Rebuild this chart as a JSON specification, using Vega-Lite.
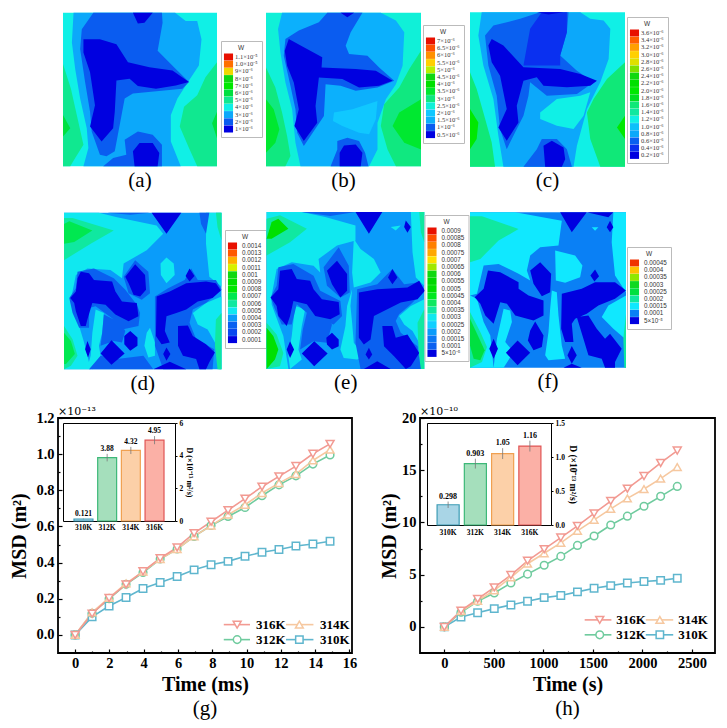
{"$schema":"https://vega.github.io/schema/vega-lite/v6.json","background":"white","padding":{"left":8,"top":12,"right":0,"bottom":0},"config":{"view":{"stroke":null},"axis":{"grid":false},"legend":{"orient":"none","symbolType":"M-1.3,-1H1.3V1H-1.3Z","symbolSize":49,"symbolStrokeWidth":0,"rowPadding":0.2,"labelFontSize":6.3,"labelColor":"#333","titleFontSize":6.5,"titleColor":"#333","titleFontWeight":"normal","strokeColor":"#bbb","fillColor":"white","labelOffset":6,"padding":4,"titleAnchor":"middle","titlePadding":2,"labelLimit":60}},
"resolve":{"scale":{"color":"independent"},"legend":{"color":"independent"}},
"datasets":{
"pa":[
{"type":"Feature","W":"4×10⁻⁶","geometry":{"type":"Polygon","coordinates":[[[38,40],[505,40],[505,505],[38,505],[38,40]]]}},
{"type":"Feature","W":"5×10⁻⁶","geometry":{"type":"MultiPolygon","coordinates":[[[[38,195],[62,270],[82,360],[100,440],[75,480],[60,505],[38,505],[38,195]]],[[[505,190],[470,235],[445,290],[405,325],[392,385],[420,450],[445,505],[505,505],[505,190]]]]}},
{"type":"Feature","W":"6×10⁻⁶","geometry":{"type":"MultiPolygon","coordinates":[[[[38,350],[60,390],[38,415],[38,350]]],[[[505,340],[490,375],[505,420],[505,340]]]]}},
{"type":"Feature","W":"3×10⁻⁶","geometry":{"type":"Polygon","coordinates":[[[70,40],[65,130],[75,210],[90,300],[110,390],[115,450],[100,505],[395,505],[365,430],[365,350],[385,300],[420,245],[450,200],[458,120],[445,65],[410,65],[378,40],[70,40]]]}},
{"type":"Feature","W":"2×10⁻⁶","geometry":{"type":"MultiPolygon","coordinates":[[[[130,40],[95,90],[90,150],[105,250],[120,340],[125,400],[150,470],[170,475],[195,460],[225,300],[250,285],[400,270],[420,250],[380,210],[325,155],[340,70],[338,40],[130,40]]],[[[160,505],[190,480],[230,470],[225,425],[265,400],[310,410],[338,440],[338,505],[160,505]]]]}},
{"type":"Feature","W":"1×10⁻⁶","geometry":{"type":"MultiPolygon","coordinates":[[[[100,120],[150,120],[200,135],[235,190],[300,205],[370,215],[420,250],[380,260],[320,270],[265,262],[240,240],[200,245],[195,340],[190,390],[155,430],[120,385],[135,320],[120,220],[100,160],[100,120]]],[[[250,40],[310,40],[285,70],[265,72],[250,40]]],[[[255,505],[250,460],[270,435],[310,435],[330,465],[325,505],[255,505]]]]}}
],
"pb":[
{"type":"Feature","W":"2.5×10⁻⁶","geometry":{"type":"Polygon","coordinates":[[[12,12],[475,12],[475,470],[12,470],[12,12]]]}},
{"type":"Feature","W":"3×10⁻⁶","geometry":{"type":"MultiPolygon","coordinates":[[[[12,175],[40,235],[60,310],[75,380],[85,440],[70,470],[12,470],[12,175]]],[[[475,125],[440,180],[410,235],[365,285],[355,350],[375,420],[400,470],[475,470],[475,125]]]]}},
{"type":"Feature","W":"3.5×10⁻⁶","geometry":{"type":"MultiPolygon","coordinates":[[[[12,270],[35,300],[52,360],[40,400],[12,430],[12,270]]],[[[475,270],[410,310],[390,350],[425,400],[475,420],[475,270]]]]}},
{"type":"Feature","W":"1.5×10⁻⁶","geometry":{"type":"Polygon","coordinates":[[[60,12],[48,60],[55,130],[70,220],[90,300],[100,400],[115,470],[320,470],[345,420],[345,340],[370,270],[400,225],[420,170],[425,70],[400,35],[355,12],[60,12]]]}},
{"type":"Feature","W":"2×10⁻⁶","geometry":{"type":"Polygon","coordinates":[[[215,310],[270,300],[345,275],[340,330],[320,375],[290,370],[240,350],[212,335],[215,310]]]}},
{"type":"Feature","W":"1×10⁻⁶","geometry":{"type":"MultiPolygon","coordinates":[[[[195,12],[170,40],[110,65],[70,90],[65,140],[85,230],[100,300],[105,370],[125,410],[165,350],[185,320],[190,225],[235,230],[280,245],[345,235],[395,215],[350,175],[315,140],[260,135],[250,110],[265,70],[300,12],[195,12]]],[[[205,470],[225,420],[225,395],[255,385],[290,395],[308,430],[318,470],[205,470]]]]}},
{"type":"Feature","W":"0.5×10⁻⁶","geometry":{"type":"MultiPolygon","coordinates":[[[[80,90],[125,115],[180,145],[178,175],[280,180],[340,185],[390,215],[350,230],[290,235],[240,210],[170,205],[160,290],[165,340],[125,395],[97,350],[110,300],[95,220],[75,170],[68,125],[80,90]]],[[[235,12],[275,12],[255,25],[235,12]]],[[[232,470],[232,430],[245,408],[280,405],[300,430],[295,470],[232,470]]]]}}
],
"pc":[
{"type":"Feature","W":"1.2×10⁻⁶","geometry":{"type":"Polygon","coordinates":[[[330,40],[794,40],[794,503],[330,503],[330,40]]]}},
{"type":"Feature","W":"1.6×10⁻⁶","geometry":{"type":"MultiPolygon","coordinates":[[[[330,220],[350,270],[370,340],[395,430],[405,503],[330,503],[330,220]]],[[[794,190],[740,240],[700,300],[680,340],[690,420],[720,503],[794,503],[794,190]]]]}},
{"type":"Feature","W":"2.0×10⁻⁶","geometry":{"type":"MultiPolygon","coordinates":[[[[330,330],[355,370],[350,420],[330,450],[330,330]]],[[[794,350],[770,385],[794,420],[794,350]]]]}},
{"type":"Feature","W":"0.8×10⁻⁶","geometry":{"type":"MultiPolygon","coordinates":[[[[365,40],[355,110],[370,200],[400,300],[415,410],[430,503],[640,503],[650,440],[680,330],[720,250],[745,180],[750,90],[730,65],[690,60],[660,40],[365,40]]],[[[722,122],[716,132],[724,142],[722,122]]]]}},
{"type":"Feature","W":"1.2×10⁻⁶","geometry":{"type":"Polygon","coordinates":[[[540,340],[590,300],[660,290],[690,280],[670,350],[640,390],[590,380],[540,360],[540,340]]]}},
{"type":"Feature","W":"0.6×10⁻⁶","geometry":{"type":"MultiPolygon","coordinates":[[[[540,40],[480,60],[400,80],[375,110],[385,200],[410,290],[420,390],[440,450],[490,350],[505,290],[510,250],[560,290],[650,285],[700,250],[650,215],[600,170],[620,100],[625,40],[540,40]]],[[[490,503],[530,450],[545,420],[590,420],[620,450],[635,503],[490,503]]]]}},
{"type":"Feature","W":"0.4×10⁻⁶","geometry":{"type":"Polygon","coordinates":[[[545,40],[510,90],[490,200],[600,200],[600,170],[620,100],[620,40],[545,40]]]}},
{"type":"Feature","W":"0.2×10⁻⁶","geometry":{"type":"MultiPolygon","coordinates":[[[[395,120],[430,140],[490,205],[600,210],[660,225],[710,245],[690,260],[620,265],[550,260],[530,235],[490,245],[470,320],[475,370],[440,425],[415,385],[440,330],[420,230],[395,190],[385,140],[395,120]]],[[[530,40],[610,40],[565,47],[530,40]]],[[[555,503],[550,440],[575,425],[610,445],[615,480],[605,503],[555,503]]]]}}
],
"pd":[
{"type":"Feature","W":"0.0004","geometry":{"type":"Polygon","coordinates":[[[39,36],[517,36],[517,511],[39,511],[39,36]]]}},
{"type":"Feature","W":"0.0005","geometry":{"type":"MultiPolygon","coordinates":[[[[39,36],[145,36],[200,50],[320,75],[340,100],[290,150],[220,190],[215,235],[180,210],[110,205],[75,225],[60,300],[60,310],[85,380],[100,430],[120,511],[39,511],[39,36]]],[[[470,36],[517,36],[517,260],[480,230],[470,130],[470,36]]],[[[517,290],[470,310],[430,340],[445,375],[475,390],[497,430],[510,511],[517,511],[517,290]]],[[[350,172],[372,190],[375,225],[350,250],[333,225],[332,190],[350,172]]],[[[300,385],[315,430],[315,470],[295,475],[283,440],[290,400],[300,385]]],[[[135,330],[160,340],[155,400],[145,440],[150,470],[125,511],[110,505],[120,470],[125,400],[135,330]]]]}},
{"type":"Feature","W":"0.0006","geometry":{"type":"MultiPolygon","coordinates":[[[[39,52],[65,52],[190,90],[120,130],[39,180],[39,52]]],[[[39,380],[65,420],[80,470],[60,500],[39,511],[39,380]]],[[[500,36],[517,36],[517,120],[505,80],[500,36]]],[[[517,340],[500,360],[497,440],[505,511],[517,511],[517,340]]]]}},
{"type":"Feature","W":"0.0007","geometry":{"type":"MultiPolygon","coordinates":[[[[55,62],[125,90],[70,125],[39,130],[39,70],[55,62]]],[[[39,400],[60,425],[72,465],[45,495],[39,495],[39,400]]]]}},
{"type":"Feature","W":"0.0003","geometry":{"type":"MultiPolygon","coordinates":[[[[80,215],[130,205],[190,235],[225,270],[260,315],[270,340],[265,380],[215,390],[190,360],[135,320],[115,325],[115,385],[85,385],[65,340],[55,295],[75,265],[80,215]]],[[[255,180],[295,215],[300,280],[275,300],[235,280],[220,230],[255,180]]],[[[315,290],[355,265],[405,240],[425,205],[445,240],[500,240],[517,270],[470,310],[430,330],[420,370],[440,420],[495,450],[490,511],[340,511],[315,440],[315,340],[315,290]]],[[[160,345],[210,370],[225,395],[215,430],[190,425],[150,440],[155,400],[160,345]]],[[[150,470],[200,480],[280,470],[310,511],[115,511],[150,470]]],[[[170,36],[300,36],[240,42],[170,36]]],[[[450,36],[480,36],[470,100],[455,70],[450,36]]]]}},
{"type":"Feature","W":"0.0001","geometry":{"type":"MultiPolygon","coordinates":[[[[90,215],[115,220],[130,240],[185,245],[195,275],[215,305],[260,310],[265,350],[235,365],[195,345],[165,315],[125,310],[110,360],[105,380],[90,380],[75,335],[70,310],[58,295],[75,275],[80,235],[90,215]]],[[[255,192],[285,225],[288,270],[270,290],[250,285],[235,250],[225,230],[255,192]]],[[[320,290],[360,275],[410,250],[470,245],[500,250],[515,272],[490,295],[445,305],[410,330],[380,340],[350,350],[345,395],[360,430],[335,435],[318,410],[320,290]]],[[[385,380],[415,378],[430,410],[470,435],[497,460],[480,490],[470,511],[450,511],[440,480],[400,470],[385,440],[385,380]]],[[[420,205],[435,228],[420,245],[408,228],[420,205]]],[[[305,36],[395,36],[350,100],[305,36]]],[[[240,395],[262,415],[262,440],[240,455],[222,435],[222,410],[240,395]]],[[[183,423],[223,463],[183,497],[150,463],[183,423]]],[[[110,425],[120,450],[112,475],[103,450],[110,425]]],[[[350,445],[362,465],[350,485],[340,465],[350,445]]],[[[310,511],[360,488],[410,511],[310,511]]]]}}
],
"pe":[
{"type":"Feature","W":"0.0002","geometry":{"type":"Polygon","coordinates":[[[10,10],[480,10],[480,478],[10,478],[10,10]]]}},
{"type":"Feature","W":"0.0003","geometry":{"type":"MultiPolygon","coordinates":[[[[10,10],[115,10],[185,25],[275,50],[275,95],[220,110],[165,150],[170,190],[150,170],[85,160],[40,180],[25,260],[25,285],[45,340],[60,380],[75,478],[10,478],[10,10]]],[[[440,10],[480,10],[480,230],[455,205],[445,130],[440,10]]],[[[480,270],[440,290],[405,320],[420,345],[445,365],[465,400],[470,478],[480,478],[480,270]]],[[[270,90],[290,120],[330,150],[350,190],[320,220],[270,235],[265,190],[270,90]]],[[[265,240],[260,290],[265,340],[270,400],[300,440],[280,450],[240,445],[230,420],[245,350],[250,290],[265,240]]],[[[95,290],[125,300],[115,350],[110,385],[105,420],[115,450],[80,478],[75,440],[85,380],[95,290]]],[[[380,55],[410,50],[395,65],[380,55]]]]}},
{"type":"Feature","W":"0.00035","geometry":{"type":"MultiPolygon","coordinates":[[[[10,30],[50,20],[130,60],[80,100],[10,140],[10,30]]],[[[10,340],[40,375],[60,430],[50,470],[10,478],[10,340]]],[[[465,10],[480,10],[480,100],[470,70],[465,10]]],[[[480,300],[460,340],[462,400],[468,478],[480,478],[480,300]]]]}},
{"type":"Feature","W":"0.0005","geometry":{"type":"MultiPolygon","coordinates":[[[[25,40],[45,30],[75,60],[25,90],[10,90],[25,40]]],[[[10,355],[30,380],[45,420],[35,450],[10,478],[10,355]]]]}},
{"type":"Feature","W":"0.0001","geometry":{"type":"MultiPolygon","coordinates":[[[[45,175],[90,165],[150,200],[170,245],[230,275],[235,320],[210,345],[150,325],[130,310],[100,285],[85,345],[55,345],[35,300],[22,265],[40,230],[45,175]]],[[[225,115],[255,170],[258,250],[230,265],[190,230],[180,175],[225,115]]],[[[280,240],[340,225],[385,180],[420,225],[460,220],[480,245],[440,285],[405,315],[395,335],[410,370],[460,410],[470,478],[290,478],[275,400],[280,240]]],[[[130,310],[175,325],[205,345],[190,400],[150,395],[110,420],[118,360],[130,310]]],[[[115,10],[275,10],[200,22],[115,10]]]]}},
{"type":"Feature","W":"5×10⁻⁵","geometry":{"type":"MultiPolygon","coordinates":[[[[50,185],[85,180],[100,210],[140,215],[150,240],[175,270],[225,278],[228,315],[200,330],[155,320],[130,285],[90,275],[80,320],[70,350],[45,320],[40,290],[22,265],[45,240],[50,185]]],[[[220,155],[250,195],[250,245],[230,265],[205,225],[190,185],[220,155]]],[[[285,250],[340,240],[430,235],[465,215],[482,245],[460,270],[410,280],[370,300],[330,320],[320,390],[300,405],[285,385],[285,250]]],[[[355,350],[385,350],[395,385],[430,375],[465,430],[440,470],[425,478],[390,440],[360,410],[355,350]]],[[[385,180],[400,205],[385,225],[372,205],[385,180]]],[[[315,415],[325,435],[315,450],[305,435],[315,415]]],[[[205,370],[225,390],[225,410],[205,420],[190,405],[188,385],[205,370]]],[[[152,395],[192,432],[152,470],[115,432],[152,395]]],[[[80,395],[92,420],[80,445],[70,420],[80,395]]],[[[275,10],[355,10],[315,75],[275,10]]],[[[425,35],[440,55],[430,72],[420,55],[425,35]]],[[[300,478],[340,455],[380,478],[300,478]]]]}}
],
"pf":[
{"type":"Feature","W":"0.0001","geometry":{"type":"Polygon","coordinates":[[[204,40],[673,40],[673,507],[204,507],[204,40]]]}},
{"type":"Feature","W":"0.00015","geometry":{"type":"MultiPolygon","coordinates":[[[[204,40],[340,40],[480,65],[470,140],[415,145],[385,170],[375,215],[385,245],[350,225],[290,195],[245,200],[225,285],[204,290],[225,300],[245,370],[265,410],[275,507],[204,507],[204,40]]],[[[460,155],[520,170],[542,200],[535,235],[490,252],[462,245],[460,155]]],[[[635,40],[673,40],[673,280],[640,230],[630,130],[635,40]]],[[[673,290],[620,320],[600,355],[635,390],[670,420],[673,507],[673,290]]],[[[450,275],[465,280],[470,350],[480,440],[490,480],[440,485],[430,470],[440,400],[445,330],[450,275]]],[[[305,330],[325,335],[330,370],[310,430],[335,460],[305,507],[275,507],[285,420],[305,330]]],[[[570,85],[590,85],[580,95],[570,85]]]]}},
{"type":"Feature","W":"0.0002","geometry":{"type":"MultiPolygon","coordinates":[[[[204,52],[240,52],[350,90],[290,125],[235,180],[204,190],[204,52]]],[[[204,340],[235,400],[255,445],[240,490],[204,507],[204,340]]],[[[673,345],[665,420],[668,507],[673,507],[673,345]]]]}},
{"type":"Feature","W":"0.00025","geometry":{"type":"Polygon","coordinates":[[[204,360],[232,420],[248,455],[235,485],[215,480],[204,440],[204,360]]]}},
{"type":"Feature","W":"5×10⁻⁵","geometry":{"type":"MultiPolygon","coordinates":[[[[258,215],[295,220],[350,250],[350,270],[380,290],[425,305],[425,350],[395,365],[340,350],[315,315],[295,310],[275,375],[250,350],[235,315],[218,295],[245,270],[258,215]]],[[[415,190],[448,225],[445,280],[420,292],[395,255],[385,215],[415,190]]],[[[480,285],[540,270],[580,250],[640,250],[673,275],[640,300],[590,320],[555,345],[520,360],[510,375],[515,430],[490,430],[478,390],[480,285]]],[[[525,355],[560,350],[585,390],[610,420],[625,405],[660,450],[640,490],[640,507],[610,507],[600,480],[560,470],[545,420],[525,355]]],[[[580,212],[592,232],[578,248],[566,230],[580,212]]],[[[625,65],[635,85],[625,100],[615,85],[625,65]]],[[[475,40],[555,40],[510,100],[475,40]]],[[[555,40],[635,40],[620,55],[555,40]]],[[[400,368],[425,410],[420,445],[395,455],[378,425],[385,395],[400,368]]],[[[347,425],[385,462],[347,500],[312,462],[347,425]]],[[[275,420],[288,450],[275,480],[262,450],[275,420]]],[[[510,442],[525,470],[510,495],[497,470],[510,442]]],[[[485,507],[510,495],[540,507],[485,507]]]]}}
],
"g":[
{"t":0,"msd":0,"s":"310K"},{"t":0.99,"msd":0.1,"s":"310K"},{"t":1.98,"msd":0.16,"s":"310K"},{"t":2.97,"msd":0.207,"s":"310K"},{"t":3.96,"msd":0.257,"s":"310K"},{"t":4.96,"msd":0.29,"s":"310K"},{"t":5.95,"msd":0.323,"s":"310K"},{"t":6.94,"msd":0.36,"s":"310K"},{"t":7.93,"msd":0.388,"s":"310K"},{"t":8.92,"msd":0.407,"s":"310K"},{"t":9.91,"msd":0.435,"s":"310K"},{"t":10.9,"msd":0.457,"s":"310K"},{"t":11.89,"msd":0.473,"s":"310K"},{"t":12.88,"msd":0.492,"s":"310K"},{"t":13.87,"msd":0.503,"s":"310K"},{"t":14.87,"msd":0.518,"s":"310K"},
{"t":0,"msd":0,"s":"312K"},{"t":0.99,"msd":0.12,"s":"312K"},{"t":1.98,"msd":0.2,"s":"312K"},{"t":2.97,"msd":0.28,"s":"312K"},{"t":3.96,"msd":0.345,"s":"312K"},{"t":4.96,"msd":0.42,"s":"312K"},{"t":5.95,"msd":0.475,"s":"312K"},{"t":6.94,"msd":0.545,"s":"312K"},{"t":7.93,"msd":0.605,"s":"312K"},{"t":8.92,"msd":0.655,"s":"312K"},{"t":9.91,"msd":0.705,"s":"312K"},{"t":10.9,"msd":0.77,"s":"312K"},{"t":11.89,"msd":0.83,"s":"312K"},{"t":12.88,"msd":0.88,"s":"312K"},{"t":13.87,"msd":0.945,"s":"312K"},{"t":14.87,"msd":0.995,"s":"312K"},
{"t":0,"msd":0,"s":"314K"},{"t":0.99,"msd":0.125,"s":"314K"},{"t":1.98,"msd":0.205,"s":"314K"},{"t":2.97,"msd":0.285,"s":"314K"},{"t":3.96,"msd":0.35,"s":"314K"},{"t":4.96,"msd":0.42,"s":"314K"},{"t":5.95,"msd":0.475,"s":"314K"},{"t":6.94,"msd":0.545,"s":"314K"},{"t":7.93,"msd":0.605,"s":"314K"},{"t":8.92,"msd":0.665,"s":"314K"},{"t":9.91,"msd":0.72,"s":"314K"},{"t":10.9,"msd":0.785,"s":"314K"},{"t":11.89,"msd":0.84,"s":"314K"},{"t":12.88,"msd":0.89,"s":"314K"},{"t":13.87,"msd":0.965,"s":"314K"},{"t":14.87,"msd":1.025,"s":"314K"},
{"t":0,"msd":0,"s":"316K"},{"t":0.99,"msd":0.117,"s":"316K"},{"t":1.98,"msd":0.204,"s":"316K"},{"t":2.97,"msd":0.279,"s":"316K"},{"t":3.96,"msd":0.352,"s":"316K"},{"t":4.96,"msd":0.424,"s":"316K"},{"t":5.95,"msd":0.484,"s":"316K"},{"t":6.94,"msd":0.563,"s":"316K"},{"t":7.93,"msd":0.626,"s":"316K"},{"t":8.92,"msd":0.69,"s":"316K"},{"t":9.91,"msd":0.754,"s":"316K"},{"t":10.9,"msd":0.82,"s":"316K"},{"t":11.89,"msd":0.877,"s":"316K"},{"t":12.88,"msd":0.934,"s":"316K"},{"t":13.87,"msd":1.002,"s":"316K"},{"t":14.87,"msd":1.057,"s":"316K"}
],
"h":[
{"t":0,"msd":0,"s":"310K"},{"t":168,"msd":0.95,"s":"310K"},{"t":336,"msd":1.35,"s":"310K"},{"t":504,"msd":1.75,"s":"310K"},{"t":672,"msd":2.1,"s":"310K"},{"t":840,"msd":2.45,"s":"310K"},{"t":1008,"msd":2.8,"s":"310K"},{"t":1176,"msd":3.0,"s":"310K"},{"t":1344,"msd":3.35,"s":"310K"},{"t":1512,"msd":3.7,"s":"310K"},{"t":1680,"msd":3.95,"s":"310K"},{"t":1848,"msd":4.2,"s":"310K"},{"t":2016,"msd":4.35,"s":"310K"},{"t":2184,"msd":4.45,"s":"310K"},{"t":2352,"msd":4.65,"s":"310K"},
{"t":0,"msd":0,"s":"312K"},{"t":168,"msd":1.4,"s":"312K"},{"t":336,"msd":2.45,"s":"312K"},{"t":504,"msd":3.25,"s":"312K"},{"t":672,"msd":4.2,"s":"312K"},{"t":840,"msd":5.05,"s":"312K"},{"t":1008,"msd":5.9,"s":"312K"},{"t":1176,"msd":6.75,"s":"312K"},{"t":1344,"msd":7.8,"s":"312K"},{"t":1512,"msd":8.7,"s":"312K"},{"t":1680,"msd":9.75,"s":"312K"},{"t":1848,"msd":10.6,"s":"312K"},{"t":2016,"msd":11.55,"s":"312K"},{"t":2184,"msd":12.5,"s":"312K"},{"t":2352,"msd":13.45,"s":"312K"},
{"t":0,"msd":0,"s":"314K"},{"t":168,"msd":1.5,"s":"314K"},{"t":336,"msd":2.5,"s":"314K"},{"t":504,"msd":3.5,"s":"314K"},{"t":672,"msd":4.75,"s":"314K"},{"t":840,"msd":6.05,"s":"314K"},{"t":1008,"msd":7.05,"s":"314K"},{"t":1176,"msd":8.05,"s":"314K"},{"t":1344,"msd":9.2,"s":"314K"},{"t":1512,"msd":10.25,"s":"314K"},{"t":1680,"msd":11.3,"s":"314K"},{"t":1848,"msd":12.3,"s":"314K"},{"t":2016,"msd":13.2,"s":"314K"},{"t":2184,"msd":14.2,"s":"314K"},{"t":2352,"msd":15.3,"s":"314K"},
{"t":0,"msd":0,"s":"316K"},{"t":168,"msd":1.56,"s":"316K"},{"t":336,"msd":2.67,"s":"316K"},{"t":504,"msd":3.78,"s":"316K"},{"t":672,"msd":4.96,"s":"316K"},{"t":840,"msd":6.33,"s":"316K"},{"t":1008,"msd":7.44,"s":"316K"},{"t":1176,"msd":8.55,"s":"316K"},{"t":1344,"msd":9.67,"s":"316K"},{"t":1512,"msd":10.87,"s":"316K"},{"t":1680,"msd":12.05,"s":"316K"},{"t":1848,"msd":13.23,"s":"316K"},{"t":2016,"msd":14.44,"s":"316K"},{"t":2184,"msd":15.7,"s":"316K"},{"t":2352,"msd":16.88,"s":"316K"}
],
"gi":[{"s":"310K","d":0.121,"lo":0.1,"hi":0.142,"label":"0.121"},{"s":"312K","d":3.88,"lo":3.65,"hi":4.11,"label":"3.88"},{"s":"314K","d":4.32,"lo":4.1,"hi":4.54,"label":"4.32"},{"s":"316K","d":4.95,"lo":4.7,"hi":5.2,"label":"4.95"}],
"hi":[{"s":"310K","d":0.298,"lo":0.25,"hi":0.345,"label":"0.298"},{"s":"312K","d":0.903,"lo":0.83,"hi":0.975,"label":"0.903"},{"s":"314K","d":1.05,"lo":0.97,"hi":1.13,"label":"1.05"},{"s":"316K","d":1.16,"lo":1.08,"hi":1.24,"label":"1.16"}],
"gl":[{"s":"316K","x":8.67,"y":0.057},{"s":"316K","x":10.2,"y":0.057},{"s":"314K","x":12.3,"y":0.057},{"s":"314K","x":13.9,"y":0.057},{"s":"312K","x":8.67,"y":-0.026},{"s":"312K","x":10.2,"y":-0.026},{"s":"310K","x":12.3,"y":-0.026},{"s":"310K","x":13.9,"y":-0.026}],
"gp":[{"s":"316K","x":9.45,"y":0.057,"tx":10.55},{"s":"314K","x":13.08,"y":0.057,"tx":14.29},{"s":"312K","x":9.45,"y":-0.026,"tx":10.55},{"s":"310K","x":13.08,"y":-0.026,"tx":14.29}],
"hl":[{"s":"316K","x":1417,"y":0.67},{"s":"316K","x":1687,"y":0.67},{"s":"314K","x":2034,"y":0.67},{"s":"314K","x":2311,"y":0.67},{"s":"312K","x":1417,"y":-0.76},{"s":"312K","x":1687,"y":-0.76},{"s":"310K","x":2034,"y":-0.76},{"s":"310K","x":2311,"y":-0.76}],
"hp":[{"s":"316K","x":1569,"y":0.67,"tx":1737},{"s":"314K","x":2176,"y":0.67,"tx":2362},{"s":"312K","x":1569,"y":-0.76,"tx":1737},{"s":"310K","x":2176,"y":-0.76,"tx":2362}]
},
"vconcat":[
{"resolve":{"scale":{"color":"independent"},"legend":{"color":"independent"}},"vconcat":[
{"resolve":{"scale":{"color":"independent"},"legend":{"color":"independent"}},"hconcat":[{"width":5,"height":1,"data":{"values":[]},"mark":"point"},{"resolve":{"scale":{"color":"independent"},"legend":{"color":"independent"}},"hconcat":[
{"width":154,"height":155,"data":{"name":"pa"},"projection":{"type":"identity"},"mark":{"type":"geoshape","stroke":null},"title":{"text":"(a)","orient":"bottom","font":"Liberation Serif","fontSize":21,"fontWeight":"normal","offset":3},"encoding":{"color":{"field":"W","type":"nominal","scale":{"domain":["1.1×10⁻⁵","1.0×10⁻⁵","9×10⁻⁶","8×10⁻⁶","7×10⁻⁶","6×10⁻⁶","5×10⁻⁶","4×10⁻⁶","3×10⁻⁶","2×10⁻⁶","1×10⁻⁶"],"range":["#E81000","#FF7000","#F0D800","#10D810","#00E800","#00E040","#10E890","#10F0E6","#0CA8FA","#0A5CF0","#0000E0"]},"legend":{"title":"W","legendX":158,"legendY":29,"labelFont":"Liberation Serif","labelFontSize":6.5,"labelOffset":3,"titleFont":"Liberation Sans"}}}},
{"width":155,"height":155,"data":{"name":"pb"},"projection":{"type":"identity"},"mark":{"type":"geoshape","stroke":null},"title":{"text":"(b)","orient":"bottom","font":"Liberation Serif","fontSize":21,"fontWeight":"normal","offset":3},"encoding":{"color":{"field":"W","type":"nominal","scale":{"domain":["7×10⁻⁶","6.5×10⁻⁶","6×10⁻⁶","5.5×10⁻⁶","5×10⁻⁶","4.5×10⁻⁶","4×10⁻⁶","3.5×10⁻⁶","3×10⁻⁶","2.5×10⁻⁶","2×10⁻⁶","1.5×10⁻⁶","1×10⁻⁶","0.5×10⁻⁶"],"range":["#E81000","#FF5000","#FF9000","#FFD000","#B8F000","#10D810","#00E000","#00E830","#10E880","#10F0D8","#10C8FF","#0CB0FC","#0A5CF0","#0000E0"]},"legend":{"title":"W","legendX":157,"legendY":13,"labelFont":"Liberation Serif","labelFontSize":6.5,"labelOffset":3,"titleFont":"Liberation Sans"}}}},
{"width":155,"height":155,"data":{"name":"pc"},"projection":{"type":"identity"},"mark":{"type":"geoshape","stroke":null},"title":{"text":"(c)","orient":"bottom","font":"Liberation Serif","fontSize":21,"fontWeight":"normal","offset":3},"encoding":{"color":{"field":"W","type":"nominal","scale":{"domain":["3.6×10⁻⁶","3.4×10⁻⁶","3.2×10⁻⁶","3.0×10⁻⁶","2.8×10⁻⁶","2.6×10⁻⁶","2.4×10⁻⁶","2.2×10⁻⁶","2.0×10⁻⁶","1.8×10⁻⁶","1.6×10⁻⁶","1.4×10⁻⁶","1.2×10⁻⁶","1.0×10⁻⁶","0.8×10⁻⁶","0.6×10⁻⁶","0.4×10⁻⁶","0.2×10⁻⁶"],"range":["#E81000","#FF6000","#FFA000","#FFD000","#E0E000","#80E000","#10D810","#00E000","#00E800","#00E020","#10E878","#10E8A0","#10F0E6","#0CC0FA","#0CA8FA","#0A60F0","#0A30F0","#0000E0"]},"legend":{"title":"W","legendX":157,"legendY":5,"labelFont":"Liberation Serif","labelFontSize":6.5,"labelOffset":3,"titleFont":"Liberation Sans"}}}}
],"bounds":"flush","spacing":49}],"spacing":0},
{"resolve":{"scale":{"color":"independent"},"legend":{"color":"independent"}},"hconcat":[{"width":5,"height":1,"data":{"values":[]},"mark":"point"},{"resolve":{"scale":{"color":"independent"},"legend":{"color":"independent"}},"hconcat":[
{"width":157.5,"height":158,"data":{"name":"pd"},"projection":{"type":"identity"},"mark":{"type":"geoshape","stroke":null},"title":{"text":"(d)","orient":"bottom","font":"Liberation Serif","fontSize":21,"fontWeight":"normal","offset":3},"encoding":{"color":{"field":"W","type":"nominal","scale":{"domain":["0.0014","0.0013","0.0012","0.0011","0.001","0.0009","0.0008","0.0007","0.0006","0.0005","0.0004","0.0003","0.0002","0.0001"],"range":["#E81000","#FF5800","#FFB000","#D8F000","#10D810","#00E000","#00E800","#00E850","#10E8A0","#10E8F0","#0A9CFA","#0A60F0","#0A48F0","#0000E0"]},"legend":{"title":"W","legendX":161,"legendY":18,"labelFont":"Liberation Sans","titleFont":"Liberation Sans"}}}},
{"width":158.5,"height":157,"data":{"name":"pe"},"projection":{"type":"identity"},"mark":{"type":"geoshape","stroke":null},"title":{"text":"(e)","orient":"bottom","font":"Liberation Serif","fontSize":21,"fontWeight":"normal","offset":3},"encoding":{"color":{"field":"W","type":"nominal","scale":{"domain":["0.0009","0.00085","0.0008","0.00075","0.0007","0.00065","0.0006","0.00055","0.0005","0.00045","0.0004","0.00035","0.0003","0.00025","0.0002","0.00015","0.0001","5×10⁻⁵"],"range":["#E81000","#FF5000","#FF8000","#FFA800","#FFE000","#A0E800","#10D810","#00D800","#00E000","#00E820","#10E860","#10E8A0","#10E8F0","#10D0FF","#0A9CFA","#0A78F5","#0A60F0","#0000E0"]},"legend":{"title":"W","legendX":158,"legendY":3,"labelFont":"Liberation Sans","titleFont":"Liberation Sans"}}}},
{"width":156,"height":156,"data":{"name":"pf"},"projection":{"type":"identity"},"mark":{"type":"geoshape","stroke":null},"title":{"text":"(f)","orient":"bottom","font":"Liberation Serif","fontSize":21,"fontWeight":"normal","offset":3},"encoding":{"color":{"field":"W","type":"nominal","scale":{"domain":["0.00045","0.0004","0.00035","0.0003","0.00025","0.0002","0.00015","0.0001","5×10⁻⁵"],"range":["#F03000","#FFC000","#90E800","#10D820","#00E040","#10E8A0","#10E8FF","#0A80F5","#0000E0"]},"legend":{"title":"W","legendX":157,"legendY":35,"labelFont":"Liberation Sans","titleFont":"Liberation Sans"}}}}
],"bounds":"flush","spacing":44.5}],"spacing":0}
],"spacing":20},
{"hconcat":[
{"width":294,"height":235,"view":{"stroke":"black","strokeWidth":1.8},"title":{"text":"(g)","orient":"bottom","font":"Liberation Serif","fontSize":21,"fontWeight":"normal","offset":3},
"resolve":{"scale":{"x":"independent","y":"independent","stroke":"independent","fill":"independent","shape":"independent"}},
"layer":[
{"data":{"name":"g"},"mark":{"type":"line","strokeWidth":1.6},"encoding":{"x":{"field":"t","type":"quantitative","scale":{"domain":[-1,16.15],"nice":false,"zero":false},"axis":{"orient":"bottom","values":[0,2,4,6,8,10,12,14,16],"tickSize":-4,"tickWidth":1.2,"tickColor":"black","domain":false,"labelFont":"Liberation Serif","labelFontWeight":"bold","labelFontSize":14.5,"labelColor":"black","labelPadding":7,"labelFlush":false,"title":"Time (ms)","titleFont":"Liberation Serif","titleFontSize":20,"titleFontWeight":"bold","titleColor":"black","titlePadding":5}},"y":{"field":"msd","type":"quantitative","scale":{"domain":[-0.1,1.2],"nice":false,"zero":false},"axis":{"orient":"left","values":[0,0.2,0.4,0.6,0.8,1,1.2],"format":".1f","tickSize":-4,"tickWidth":1.2,"tickColor":"black","domain":false,"labelFont":"Liberation Serif","labelFontWeight":"bold","labelFontSize":14.5,"labelColor":"black","labelPadding":8,"title":"MSD (m²)","titleFont":"Liberation Serif","titleFontSize":20,"titleFontWeight":"bold","titleColor":"black","titlePadding":6}},"stroke":{"field":"s","type":"nominal","scale":{"domain":["310K","312K","314K","316K"],"range":["#5FB6CE","#6FCB9E","#F6C8A0","#F29A92"]},"legend":null}}},
{"data":{"name":"g"},"mark":{"type":"point","filled":true,"fill":"white","strokeWidth":1.5,"opacity":1},"encoding":{"x":{"field":"t","type":"quantitative","scale":{"domain":[-1,16.15],"nice":false,"zero":false},"axis":{"orient":"bottom","values":[1,3,5,7,9,11,13,15],"tickSize":-2,"tickWidth":1.2,"tickColor":"black","domain":false,"labels":false,"title":null}},"y":{"field":"msd","type":"quantitative","scale":{"domain":[-0.1,1.2],"nice":false,"zero":false},"axis":{"orient":"left","values":[0.1,0.3,0.5,0.7,0.9,1.1],"tickSize":-2,"tickWidth":1.2,"tickColor":"black","domain":false,"labels":false,"title":null}},"stroke":{"field":"s","type":"nominal","scale":{"domain":["310K","312K","314K","316K"],"range":["#5FB6CE","#6FCB9E","#F6C8A0","#F29A92"]},"legend":null},"shape":{"field":"s","type":"nominal","scale":{"domain":["310K","312K","314K","316K"],"range":["square","circle","triangle-up","triangle-down"]},"legend":null},"size":{"field":"s","type":"nominal","scale":{"domain":["310K","312K","314K","316K"],"range":[55,64,100,100]},"legend":null}}},
{"data":{"name":"gl"},"mark":{"type":"line","strokeWidth":1.6},"encoding":{"x":{"field":"x","type":"quantitative","scale":{"domain":[-1,16.15],"nice":false,"zero":false},"axis":null},"y":{"field":"y","type":"quantitative","scale":{"domain":[-0.1,1.2],"nice":false,"zero":false},"axis":null},"stroke":{"field":"s","type":"nominal","scale":{"domain":["310K","312K","314K","316K"],"range":["#5FB6CE","#6FCB9E","#F6C8A0","#F29A92"]},"legend":null}}},
{"data":{"name":"gp"},"mark":{"type":"point","filled":true,"fill":"white","strokeWidth":1.5,"opacity":1},"encoding":{"x":{"field":"x","type":"quantitative","scale":{"domain":[-1,16.15],"nice":false,"zero":false},"axis":null},"y":{"field":"y","type":"quantitative","scale":{"domain":[-0.1,1.2],"nice":false,"zero":false},"axis":null},"stroke":{"field":"s","type":"nominal","scale":{"domain":["310K","312K","314K","316K"],"range":["#5FB6CE","#6FCB9E","#F6C8A0","#F29A92"]},"legend":null},"shape":{"field":"s","type":"nominal","scale":{"domain":["310K","312K","314K","316K"],"range":["square","circle","triangle-up","triangle-down"]},"legend":null},"size":{"field":"s","type":"nominal","scale":{"domain":["310K","312K","314K","316K"],"range":[55,64,100,100]},"legend":null}}},
{"data":{"name":"gp"},"mark":{"type":"text","align":"left","baseline":"middle","font":"Liberation Serif","fontWeight":"bold","fontSize":13,"color":"black"},"encoding":{"x":{"field":"tx","type":"quantitative","scale":{"domain":[-1,16.15],"nice":false,"zero":false},"axis":null},"y":{"field":"y","type":"quantitative","scale":{"domain":[-0.1,1.2],"nice":false,"zero":false},"axis":null},"text":{"field":"s"}}},
{"data":{"values":[{"x":-1,"y":1.2,"label":"×10⁻¹³"}]},"mark":{"type":"text","align":"left","baseline":"bottom","dy":-1,"font":"DejaVu Serif","fontSize":11,"color":"black"},"encoding":{"x":{"field":"x","type":"quantitative","scale":{"domain":[-1,16.15],"nice":false,"zero":false},"axis":null},"y":{"field":"y","type":"quantitative","scale":{"domain":[-0.1,1.2],"nice":false,"zero":false},"axis":null},"text":{"field":"label"}}},
{"data":{"name":"gi"},"mark":{"type":"bar","strokeWidth":1.2},"encoding":{"x":{"field":"s","type":"nominal","scale":{"type":"band","domain":["310K","312K","314K","316K"],"range":[5,117],"paddingInner":0.2,"paddingOuter":0.464},"axis":{"orient":"bottom","offset":-132,"ticks":false,"domain":true,"domainColor":"black","domainWidth":1,"labelAngle":0,"labelFont":"Liberation Serif","labelFontWeight":"bold","labelFontSize":7.5,"labelColor":"black","labelPadding":2,"title":null}},"y":{"field":"d","type":"quantitative","scale":{"domain":[0,6],"range":[103,5],"nice":false},"axis":{"orient":"right","offset":-177,"values":[0,2,4,6],"tickSize":2,"tickColor":"black","domainColor":"black","domainWidth":1,"labelFont":"Liberation Serif","labelFontWeight":"bold","labelFontSize":7.5,"labelColor":"black","labelPadding":2,"title":"D (×10⁻¹³ m²/s)","titleFont":"Liberation Serif","titleFontWeight":"bold","titleFontSize":8,"titleColor":"black","titlePadding":2}},"fill":{"field":"s","type":"nominal","scale":{"domain":["310K","312K","314K","316K"],"range":["#A9D5E6","#A5DFBC","#FCD0A8","#FBB0A6"]},"legend":null},"stroke":{"field":"s","type":"nominal","scale":{"domain":["310K","312K","314K","316K"],"range":["#3C9CB5","#3DB878","#F0A050","#E05555"]},"legend":null}}},
{"data":{"name":"gi"},"mark":{"type":"rule","color":"#777","strokeWidth":0.8},"encoding":{"x":{"field":"s","type":"nominal","scale":{"type":"band","domain":["310K","312K","314K","316K"],"range":[5,117],"paddingInner":0.2,"paddingOuter":0.464},"axis":{"orient":"top","offset":-5,"ticks":false,"labels":false,"domain":true,"domainColor":"black","domainWidth":1,"title":null}},"y":{"field":"lo","type":"quantitative","scale":{"domain":[0,6],"range":[103,5],"nice":false},"axis":{"orient":"left","offset":-5,"ticks":false,"labels":false,"domain":true,"domainColor":"black","domainWidth":1,"title":null}},"y2":{"field":"hi"}}},
{"data":{"name":"gi"},"mark":{"type":"text","baseline":"bottom","dy":-1,"font":"Liberation Serif","fontWeight":"bold","fontSize":7.5,"color":"black"},"encoding":{"x":{"field":"s","type":"nominal","scale":{"type":"band","domain":["310K","312K","314K","316K"],"range":[5,117],"paddingInner":0.2,"paddingOuter":0.464},"axis":null},"y":{"field":"hi","type":"quantitative","scale":{"domain":[0,6],"range":[103,5],"nice":false},"axis":null},"text":{"field":"label"}}}
]},
{"width":295,"height":235,"view":{"stroke":"black","strokeWidth":1.8},"title":{"text":"(h)","orient":"bottom","font":"Liberation Serif","fontSize":21,"fontWeight":"normal","offset":3},
"resolve":{"scale":{"x":"independent","y":"independent","stroke":"independent","fill":"independent","shape":"independent"}},
"layer":[
{"data":{"name":"h"},"mark":{"type":"line","strokeWidth":1.6},"encoding":{"x":{"field":"t","type":"quantitative","scale":{"domain":[-246,2733],"nice":false,"zero":false},"axis":{"orient":"bottom","values":[0,500,1000,1500,2000,2500],"format":"d","tickSize":-4,"tickWidth":1.2,"tickColor":"black","domain":false,"labelFont":"Liberation Serif","labelFontWeight":"bold","labelFontSize":14.5,"labelColor":"black","labelPadding":7,"labelFlush":false,"title":"Time (s)","titleFont":"Liberation Serif","titleFontSize":20,"titleFontWeight":"bold","titleColor":"black","titlePadding":5}},"y":{"field":"msd","type":"quantitative","scale":{"domain":[-2.5,20],"nice":false,"zero":false},"axis":{"orient":"left","values":[0,5,10,15,20],"tickSize":-4,"tickWidth":1.2,"tickColor":"black","domain":false,"labelFont":"Liberation Serif","labelFontWeight":"bold","labelFontSize":14.5,"labelColor":"black","labelPadding":8,"title":"MSD (m²)","titleFont":"Liberation Serif","titleFontSize":20,"titleFontWeight":"bold","titleColor":"black","titlePadding":2}},"stroke":{"field":"s","type":"nominal","scale":{"domain":["310K","312K","314K","316K"],"range":["#5FB6CE","#6FCB9E","#F6C8A0","#F29A92"]},"legend":null}}},
{"data":{"name":"h"},"mark":{"type":"point","filled":true,"fill":"white","strokeWidth":1.5,"opacity":1},"encoding":{"x":{"field":"t","type":"quantitative","scale":{"domain":[-246,2733],"nice":false,"zero":false},"axis":{"orient":"bottom","values":[250,750,1250,1750,2250],"tickSize":-2,"tickWidth":1.2,"tickColor":"black","domain":false,"labels":false,"title":null}},"y":{"field":"msd","type":"quantitative","scale":{"domain":[-2.5,20],"nice":false,"zero":false},"axis":{"orient":"left","values":[2.5,7.5,12.5,17.5],"tickSize":-2,"tickWidth":1.2,"tickColor":"black","domain":false,"labels":false,"title":null}},"stroke":{"field":"s","type":"nominal","scale":{"domain":["310K","312K","314K","316K"],"range":["#5FB6CE","#6FCB9E","#F6C8A0","#F29A92"]},"legend":null},"shape":{"field":"s","type":"nominal","scale":{"domain":["310K","312K","314K","316K"],"range":["square","circle","triangle-up","triangle-down"]},"legend":null},"size":{"field":"s","type":"nominal","scale":{"domain":["310K","312K","314K","316K"],"range":[55,64,100,100]},"legend":null}}},
{"data":{"name":"hl"},"mark":{"type":"line","strokeWidth":1.6},"encoding":{"x":{"field":"x","type":"quantitative","scale":{"domain":[-246,2733],"nice":false,"zero":false},"axis":null},"y":{"field":"y","type":"quantitative","scale":{"domain":[-2.5,20],"nice":false,"zero":false},"axis":null},"stroke":{"field":"s","type":"nominal","scale":{"domain":["310K","312K","314K","316K"],"range":["#5FB6CE","#6FCB9E","#F6C8A0","#F29A92"]},"legend":null}}},
{"data":{"name":"hp"},"mark":{"type":"point","filled":true,"fill":"white","strokeWidth":1.5,"opacity":1},"encoding":{"x":{"field":"x","type":"quantitative","scale":{"domain":[-246,2733],"nice":false,"zero":false},"axis":null},"y":{"field":"y","type":"quantitative","scale":{"domain":[-2.5,20],"nice":false,"zero":false},"axis":null},"stroke":{"field":"s","type":"nominal","scale":{"domain":["310K","312K","314K","316K"],"range":["#5FB6CE","#6FCB9E","#F6C8A0","#F29A92"]},"legend":null},"shape":{"field":"s","type":"nominal","scale":{"domain":["310K","312K","314K","316K"],"range":["square","circle","triangle-up","triangle-down"]},"legend":null},"size":{"field":"s","type":"nominal","scale":{"domain":["310K","312K","314K","316K"],"range":[55,64,100,100]},"legend":null}}},
{"data":{"name":"hp"},"mark":{"type":"text","align":"left","baseline":"middle","font":"Liberation Serif","fontWeight":"bold","fontSize":13,"color":"black"},"encoding":{"x":{"field":"tx","type":"quantitative","scale":{"domain":[-246,2733],"nice":false,"zero":false},"axis":null},"y":{"field":"y","type":"quantitative","scale":{"domain":[-2.5,20],"nice":false,"zero":false},"axis":null},"text":{"field":"s"}}},
{"data":{"values":[{"x":-246,"y":20,"label":"×10⁻¹⁰"}]},"mark":{"type":"text","align":"left","baseline":"bottom","dy":-1,"font":"DejaVu Serif","fontSize":11,"color":"black"},"encoding":{"x":{"field":"x","type":"quantitative","scale":{"domain":[-246,2733],"nice":false,"zero":false},"axis":null},"y":{"field":"y","type":"quantitative","scale":{"domain":[-2.5,20],"nice":false,"zero":false},"axis":null},"text":{"field":"label"}}},
{"data":{"name":"hi"},"mark":{"type":"bar","strokeWidth":1.2},"encoding":{"x":{"field":"s","type":"nominal","scale":{"type":"band","domain":["310K","312K","314K","316K"],"range":[7,131],"paddingInner":0.19,"paddingOuter":0.37},"axis":{"orient":"bottom","offset":-128,"ticks":false,"domain":true,"domainColor":"black","domainWidth":1,"labelAngle":0,"labelFont":"Liberation Serif","labelFontWeight":"bold","labelFontSize":7.5,"labelColor":"black","labelPadding":3,"title":null}},"y":{"field":"d","type":"quantitative","scale":{"domain":[0,1.5],"range":[107,5],"nice":false},"axis":{"orient":"right","offset":-164,"values":[0,0.5,1,1.5],"format":".1f","tickSize":2,"tickColor":"black","domainColor":"black","domainWidth":1,"labelFont":"Liberation Serif","labelFontWeight":"bold","labelFontSize":7.5,"labelColor":"black","labelPadding":2,"title":"D (×10⁻¹³ m²/s)","titleFont":"Liberation Serif","titleFontWeight":"bold","titleFontSize":9.5,"titleColor":"black","titlePadding":3}},"fill":{"field":"s","type":"nominal","scale":{"domain":["310K","312K","314K","316K"],"range":["#A9D5E6","#A5DFBC","#FCD0A8","#FBB0A6"]},"legend":null},"stroke":{"field":"s","type":"nominal","scale":{"domain":["310K","312K","314K","316K"],"range":["#3C9CB5","#3DB878","#F0A050","#E05555"]},"legend":null}}},
{"data":{"name":"hi"},"mark":{"type":"rule","color":"#777","strokeWidth":0.8},"encoding":{"x":{"field":"s","type":"nominal","scale":{"type":"band","domain":["310K","312K","314K","316K"],"range":[7,131],"paddingInner":0.19,"paddingOuter":0.37},"axis":{"orient":"top","offset":-5,"ticks":false,"labels":false,"domain":true,"domainColor":"black","domainWidth":1,"title":null}},"y":{"field":"lo","type":"quantitative","scale":{"domain":[0,1.5],"range":[107,5],"nice":false},"axis":{"orient":"left","offset":-7,"ticks":false,"labels":false,"domain":true,"domainColor":"black","domainWidth":1,"title":null}},"y2":{"field":"hi"}}},
{"data":{"name":"hi"},"mark":{"type":"text","baseline":"bottom","dy":-1,"font":"Liberation Serif","fontWeight":"bold","fontSize":8,"color":"black"},"encoding":{"x":{"field":"s","type":"nominal","scale":{"type":"band","domain":["310K","312K","314K","316K"],"range":[7,131],"paddingInner":0.19,"paddingOuter":0.37},"axis":null},"y":{"field":"hi","type":"quantitative","scale":{"domain":[0,1.5],"range":[107,5],"nice":false},"axis":null},"text":{"field":"label"}}}
]}
],"bounds":"flush","spacing":68}
],"spacing":11}
